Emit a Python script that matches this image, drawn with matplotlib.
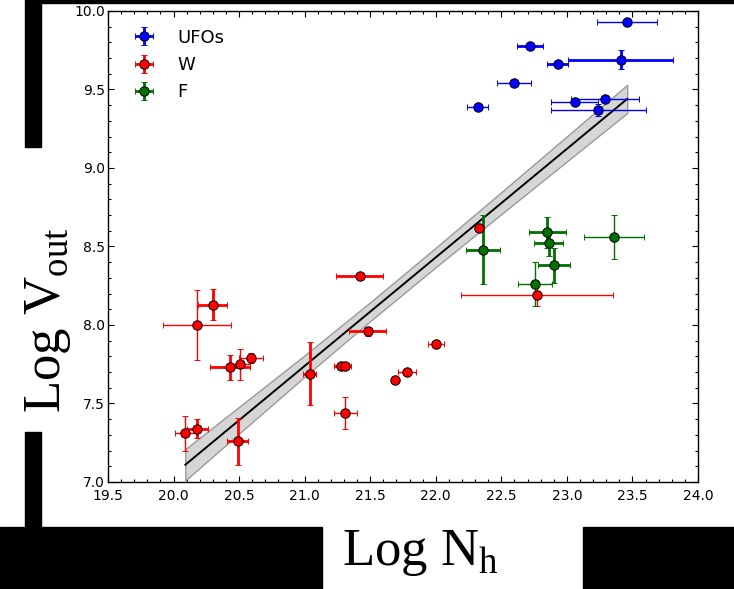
import matplotlib
matplotlib.use("Agg")
import matplotlib.pyplot as plt
from matplotlib.patches import Rectangle
from matplotlib.ticker import MultipleLocator, FormatStrFormatter

plt.rcParams["mathtext.fontset"] = "custom"
plt.rcParams["mathtext.rm"] = "Liberation Serif"

# ── data ─────────────────────────────────────────────────────────────────────
ufo_x    = [23.46, 22.72, 22.93, 23.41, 22.60, 22.32, 23.06, 23.29, 23.24]
ufo_y    = [9.93, 9.78, 9.66, 9.69, 9.54, 9.39, 9.42, 9.44, 9.37]
ufo_xerr = [0.23, 0.10, 0.08, 0.40, 0.13, 0.08, 0.18, 0.26, 0.36]
ufo_yerr = [0.00, 0.00, 0.00, 0.06, 0.00, 0.02, 0.00, 0.00, 0.04]
ufo_thick = [False, True, True, True, False, False, False, False, False]

w_x    = [20.18, 20.30, 20.59, 20.51, 20.43, 21.04, 21.28, 21.31, 21.31, 21.69,
          21.42, 21.48, 20.09, 20.18, 20.49, 22.33, 22.77, 22.00, 21.78]
w_y    = [8.00, 8.13, 7.79, 7.75, 7.73, 7.69, 7.74, 7.74, 7.44, 7.65,
          8.31, 7.96, 7.31, 7.34, 7.26, 8.62, 8.19, 7.88, 7.70]
w_xerr = [0.26, 0.11, 0.09, 0.07, 0.15, 0.05, 0.06, 0.04, 0.09, 0.02,
          0.18, 0.14, 0.08, 0.08, 0.08, 0.02, 0.58, 0.06, 0.07]
w_yerr = [0.22, 0.10, 0.03, 0.10, 0.08, 0.20, 0.01, 0.01, 0.10, 0.02,
          0.02, 0.03, 0.11, 0.06, 0.15, 0.01, 0.07, 0.00, 0.00]
w_thick = [False, True, False, False, True, True, True, True, False, True,
           True, True, False, True, True, True, False, False, False]

f_x    = [22.36, 22.85, 22.86, 22.90, 22.76, 23.36]
f_y    = [8.48, 8.59, 8.52, 8.38, 8.26, 8.56]
f_xerr = [0.13, 0.14, 0.11, 0.12, 0.13, 0.23]
f_yerr = [0.22, 0.10, 0.08, 0.11, 0.14, 0.14]
f_thick = [True, True, True, True, False, False]

# which point of each series carries the legend entry
ufo_lab, w_lab, f_lab = 3, 1, 0

# linear fit and its confidence band
fit_x = [20.09, 23.46]
fit_y = [7.11, 9.44]
band_x  = [20.09, 20.5, 21.0, 21.5, 22.0, 22.5, 23.0, 23.46]
band_hw = [0.100, 0.085, 0.068, 0.060, 0.062, 0.070, 0.080, 0.090]

W, H = 734, 589
fig = plt.figure(figsize=(W / 100, H / 100), dpi=100, facecolor="white")
ax = fig.add_axes([108 / W, 1 - 482 / H, 590 / W, 471 / H])


def _series(ax, xs, ys, xe, ye, thick, color, label, lab_idx):
    for i, (x, y, dx, dy, t) in enumerate(zip(xs, ys, xe, ye, thick)):
        lw = 2.0 if t else 1.0
        ax.errorbar(x, y, xerr=dx if dx else None, yerr=dy if dy else None,
                    fmt="o", color=color, ecolor=color, mfc=color, mec="black",
                    mew=0.7, ms=6.8, elinewidth=lw, capsize=2.5, capthick=lw,
                    label=label if i == lab_idx else None, zorder=4)


# band + fit line
slope = (fit_y[1] - fit_y[0]) / (fit_x[1] - fit_x[0])
band_c = [fit_y[0] + slope * (x - fit_x[0]) for x in band_x]
lo = [c - h for c, h in zip(band_c, band_hw)]
hi = [c + h for c, h in zip(band_c, band_hw)]
ax.fill_between(band_x, lo, hi, color="#d6d6d6", edgecolor="#9a9a9a", lw=1.0, zorder=2)
ax.plot(fit_x, fit_y, color="black", lw=1.4, zorder=3)

_series(ax, ufo_x, ufo_y, ufo_xerr, ufo_yerr, ufo_thick, "#0000ff", "UFOs", ufo_lab)
_series(ax, w_x, w_y, w_xerr, w_yerr, w_thick, "#ff0000", "W", w_lab)
_series(ax, f_x, f_y, f_xerr, f_yerr, f_thick, "#007000", "F", f_lab)

ax.set_xlim(19.5, 24.0)
ax.set_ylim(7.0, 10.0)
ax.xaxis.set_major_locator(MultipleLocator(0.5))
ax.xaxis.set_minor_locator(MultipleLocator(0.1))
ax.yaxis.set_major_locator(MultipleLocator(0.5))
ax.yaxis.set_minor_locator(MultipleLocator(0.1))
ax.xaxis.set_major_formatter(FormatStrFormatter("%.1f"))
ax.yaxis.set_major_formatter(FormatStrFormatter("%.1f"))
ax.tick_params(which="both", direction="in", top=True, right=True, width=0.8,
               labelsize=10)
ax.tick_params(which="major", length=4.5)
ax.tick_params(which="minor", length=2.5)
ax.tick_params(axis="y", pad=2)
ax.tick_params(axis="x", pad=5)
for sp in ax.spines.values():
    sp.set_linewidth(1.0)

ax.legend(loc="upper left", bbox_to_anchor=(0.0325, 0.978), frameon=False,
          fontsize=13, numpoints=1, handlelength=1.1, handletextpad=1.3,
          labelspacing=0.52, borderaxespad=0.0, borderpad=0.4)

ax.set_xlabel(r"Log N$_{\rm h}$", fontsize=38, family="Liberation Serif")
ax.xaxis.set_label_coords(0.53, -0.098)
ax.set_ylabel(r"Log V$_{\rm out}$", fontsize=38, family="Liberation Serif")
ax.yaxis.set_label_coords(-0.059, 0.344)

# black blocks of the reference picture (pixel boxes: x0, y0, x1, y1)
blocks = [(40, 0, 734, 3), (25, 0, 41, 147), (25, 432, 41, 530),
          (0, 527, 322, 589), (583, 527, 734, 589)]
for x0, y0, x1, y1 in blocks:
    fig.patches.append(Rectangle((x0 / W, 1 - y1 / H), (x1 - x0) / W, (y1 - y0) / H,
                                 transform=fig.transFigure, color="black", zorder=10))

fig.savefig("out.png", dpi=100, facecolor="white")
